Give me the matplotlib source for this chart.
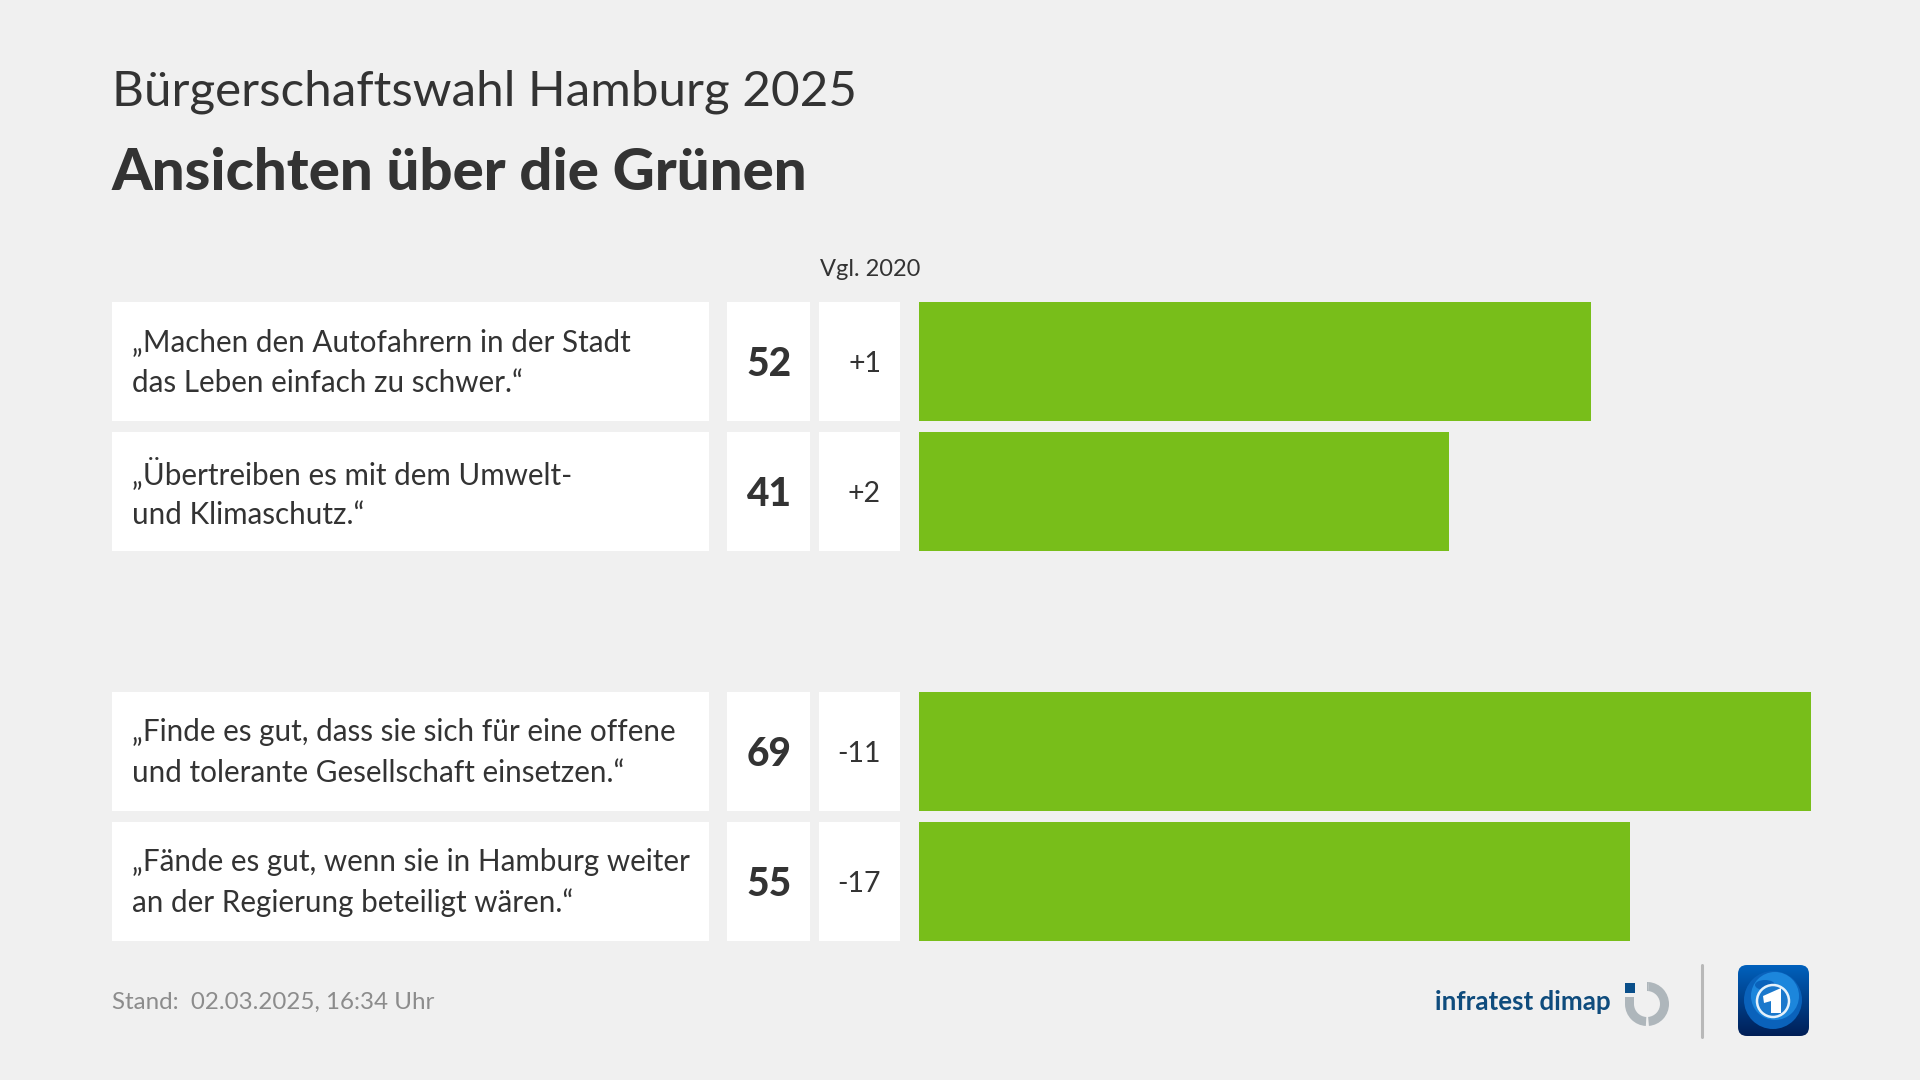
import numpy as np
import matplotlib.pyplot as plt
from matplotlib.patches import Rectangle, Wedge, Circle, FancyBboxPatch, Polygon, Ellipse

# Daten
aussagen = [
    "„Machen den Autofahrern in der Stadt\ndas Leben einfach zu schwer.“",
    "„Übertreiben es mit dem Umwelt-\nund Klimaschutz.“",
    "„Finde es gut, dass sie sich für eine offene\nund tolerante Gesellschaft einsetzen.“",
    "„Fände es gut, wenn sie in Hamburg weiter\nan der Regierung beteiligt wären.“",
]
werte = [52, 41, 69, 55]
vergleich = ["+1", "+2", "-11", "-17"]
zeilen = [0, 1, 3, 4]

HINTERGRUND = "#f0f0f0"
GRUEN = "#78be1a"
TEXT = "#333333"

plt.rcParams["font.family"] = ["Lato", "DejaVu Sans"]

fig = plt.figure(figsize=(19.2, 10.8), dpi=100, facecolor=HINTERGRUND)

# Ebene in Pixeln fuer Kaesten, Texte und Logos
bg = fig.add_axes([0, 0, 1, 1])
bg.set_xlim(0, 1920)
bg.set_ylim(1080, 0)
bg.axis("off")

bg.text(112, 92, "Bürgerschaftswahl Hamburg 2025", fontsize=35.6, color=TEXT, va="center")
bg.text(112, 174, "Ansichten über die Grünen", fontsize=41.9, color=TEXT, va="center", fontweight="black")
bg.text(820, 270, "Vgl. 2020", fontsize=17, color=TEXT, va="center")

for z, a, w, v in zip(zeilen, aussagen, werte, vergleich):
    y0 = 302 + 130 * z
    mitte = y0 + 59.5
    bg.add_patch(Rectangle((112, y0), 597, 119, fc="white", ec="none"))
    bg.add_patch(Rectangle((727, y0), 83, 119, fc="white", ec="none"))
    bg.add_patch(Rectangle((819, y0), 81, 119, fc="white", ec="none"))
    bg.text(132, mitte + 1, a, fontsize=21.3, color=TEXT, va="center", linespacing=1.53)
    bg.text(769, mitte + 3, str(w), fontsize=28, color=TEXT, va="center", ha="center", fontweight="black")
    bg.text(881, mitte + 2.5, v, fontsize=20.5, color=TEXT, va="center", ha="right")

# Balken
ax = fig.add_axes([919 / 1920, 1 - 941 / 1080, (1811 - 919) / 1920, (941 - 302) / 1080])
ax.patch.set_alpha(0)
ax.barh(zeilen, werte, height=119 / 130, color=GRUEN)
ax.set_xlim(0, 69)
ax.set_ylim(4 + 119 / 260, -119 / 260)
ax.axis("off")

# Fusszeile
bg.text(112, 1002, "Stand:  02.03.2025, 16:34 Uhr", fontsize=17.4, color="#8c8c8c", va="center")

# Logo infratest dimap
bg.text(1611, 1002, "infratest dimap", fontsize=18.6, color="#0f4c7d", va="center", ha="right", fontweight="bold")
bg.add_patch(Rectangle((1625, 983), 10, 10, fc="#0a4f8a", ec="none"))
bg.add_patch(Wedge((1647, 1004), 22, -85, 85, width=9, fc="#aeb6bb", ec="none"))
bg.add_patch(Wedge((1647, 1004), 22, 93, 178, width=9, fc="#aeb6bb", ec="none"))
bg.add_patch(Rectangle((1625, 997), 9, 8, fc="#aeb6bb", ec="none"))
bg.add_patch(Wedge((1647, 1004), 22, 270, 275, width=9, fc="#aeb6bb", ec="none"))

# Trennstrich
bg.plot([1702, 1702], [965, 1037], color="#b8b8b8", lw=2.2, solid_capstyle="round")

# Logo tagesschau
kasten = FancyBboxPatch((1738, 965), 71, 71, boxstyle="round,pad=0,rounding_size=9", fc="none", ec="none")
bg.add_patch(kasten)
verlauf = np.linspace(0, 1, 100)[:, None]
farbe = np.array([0.0, 0.38, 0.74]) * (1 - verlauf) + np.array([0.0, 0.12, 0.34]) * verlauf
bild = bg.imshow(farbe[:, None, :], extent=(1738, 1809, 1036, 965), aspect="auto", zorder=2)
bild.set_clip_path(kasten)
bg.add_patch(Circle((1773, 1000), 29, fc="#0a62bb", ec="none", zorder=3))
bg.add_patch(Circle((1775, 996), 24, fc="#1c86dc", ec="none", zorder=3))
bg.add_patch(Ellipse((1765, 985), 20, 10, fc="#0a62bb", ec="none", zorder=3))
bg.add_patch(Circle((1773, 1001), 16, fc="#1a78cc", ec="#e6f2fb", lw=1.8, zorder=4))
bg.add_patch(Polygon([[1763, 996], [1781, 988], [1781, 1013], [1771, 1013], [1771, 1001], [1764, 1003]],
                     closed=True, fc="white", ec="none", zorder=5))

bg.set_xlim(0, 1920)
bg.set_ylim(1080, 0)
fig.savefig("out.png", dpi=100, facecolor=HINTERGRUND)
